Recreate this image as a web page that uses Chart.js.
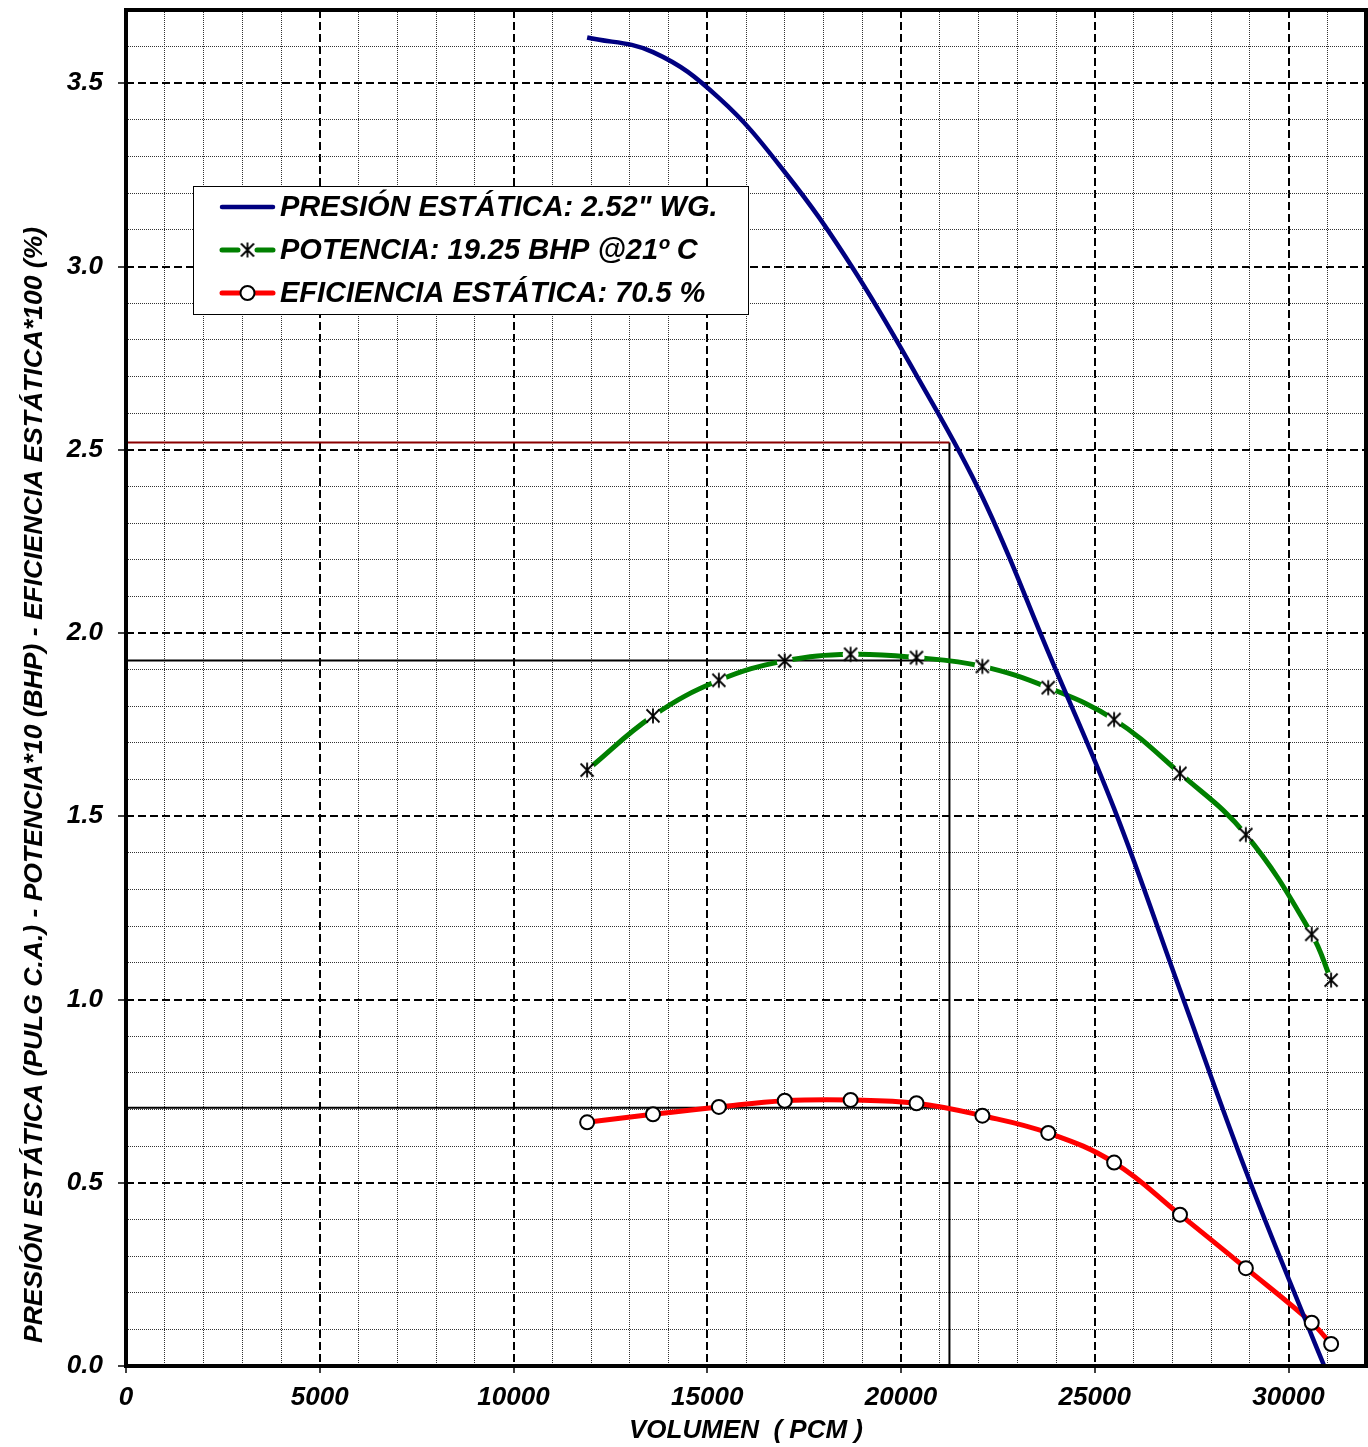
<!DOCTYPE html>
<html>
<head>
<meta charset="utf-8">
<script src="https://cdn.jsdelivr.net/npm/chart.js@4.4.1/dist/chart.umd.min.js"></script>
<style>
  html, body { margin: 0; padding: 0; background: #fff; }
  #wrap { position: relative; width: 1368px; height: 1447px; }
</style>
</head>
<body>
<div id="wrap"><canvas id="chart" width="1368" height="1447"></canvas></div>
<script>
// caudal de los puntos de ensayo (PCM)
const volumen = [11900, 13600, 15300, 17000, 18700, 20400, 22100, 23800, 25500, 27200, 28900, 30600, 31100];
// presion estatica (pulg c.a.)
const presion = [3.625, 3.585, 3.46, 3.258, 3.005, 2.703, 2.371, 1.948, 1.521, 1.026, 0.532, 0.083, -0.045];
// potencia / 10 (BHP)
const potencia = [1.626, 1.774, 1.871, 1.924, 1.942, 1.933, 1.909, 1.851, 1.764, 1.617, 1.450, 1.178, 1.053];
// eficiencia estatica / 100
const eficiencia = [0.665, 0.687, 0.707, 0.724, 0.726, 0.717, 0.683, 0.636, 0.555, 0.413, 0.267, 0.118, 0.060];

// punto de operacion
const opVolumen = 21250;
const opPresion = 2.52;
const opPotencia = 1.925;
const opEficiencia = 0.705;

// marcas con etiqueta en los ejes
const xMarcas = [0, 5000, 10000, 15000, 20000, 25000, 30000];
const yMarcas = [0.0, 0.5, 1.0, 1.5, 2.0, 2.5, 3.0, 3.5];

const tituloX = 'VOLUMEN  ( PCM )';
const tituloY = 'PRESIÓN ESTÁTICA (PULG C.A.) - POTENCIA*10 (BHP) - EFICIENCIA ESTÁTICA*100 (%)';

const FAMILIA = '"Liberation Sans", Arial, sans-serif';
const fuente = (size) => ({ family: FAMILIA, size: size, style: 'italic', weight: 'bold' });

const puntos = (ys) => volumen.map((v, i) => ({ x: v, y: ys[i] }));

const esMarcaX = (c) => c.tick && xMarcas.includes(c.tick.value);
const esMarcaY = (c) => c.tick && yMarcas.some(m => Math.abs(m - c.tick.value) < 1e-6);

// marcador tipo asterisco (X con barra vertical)
const asterisco = (function () {
  const c = document.createElement('canvas');
  c.width = 18; c.height = 18;
  const g = c.getContext('2d');
  g.strokeStyle = '#000';
  g.lineWidth = 1.8;
  g.beginPath();
  g.moveTo(2.5, 2.5); g.lineTo(15.5, 15.5);
  g.moveTo(15.5, 2.5); g.lineTo(2.5, 15.5);
  g.moveTo(9, 1.5); g.lineTo(9, 16.5);
  g.stroke();
  return c;
})();

// corta la linea alrededor de cada marcador
const huecos = {
  id: 'huecos',
  beforeDatasetDraw(chart, args) {
    const ds = chart.data.datasets[args.index];
    if (!ds.huecoRadio) return;
    const ctx = chart.ctx;
    const r = ds.huecoRadio;
    ctx.save();
    ctx.beginPath();
    ctx.rect(0, 0, chart.width, chart.height);
    args.meta.data.forEach(p => {
      ctx.moveTo(p.x + r, p.y);
      ctx.arc(p.x, p.y, r, 0, Math.PI * 2);
    });
    ctx.clip('evenodd');
  },
  afterDatasetDraw(chart, args) {
    if (chart.data.datasets[args.index].huecoRadio) chart.ctx.restore();
  }
};

// marco grueso del area de trazado
const marco = {
  id: 'marco',
  afterDatasetsDraw(chart) {
    const a = chart.chartArea;
    const ctx = chart.ctx;
    ctx.save();
    ctx.strokeStyle = '#000';
    ctx.lineWidth = 4;
    ctx.strokeRect(a.left, a.top, a.right - a.left, a.bottom - a.top);
    ctx.restore();
  }
};

// titulo vertical del eje y
const ejeY = {
  id: 'ejeY',
  afterDraw(chart) {
    const ctx = chart.ctx;
    ctx.save();
    ctx.translate(42, 785);
    ctx.rotate(-Math.PI / 2);
    ctx.font = 'italic bold 26.5px ' + FAMILIA;
    ctx.fillStyle = '#000';
    ctx.textAlign = 'center';
    ctx.textBaseline = 'alphabetic';
    ctx.fillText(tituloY, 0, 0);
    ctx.restore();
  }
};

// leyenda dentro del grafico
const leyenda = {
  id: 'leyenda',
  afterDraw(chart) {
    const ctx = chart.ctx;
    const ds = chart.data.datasets;
    ctx.save();
    ctx.fillStyle = '#fff';
    ctx.fillRect(193, 186, 555, 128);
    ctx.strokeStyle = '#000';
    ctx.lineWidth = 1;
    ctx.strokeRect(193.5, 186.5, 555, 128);

    const filas = [207, 250, 293];
    ctx.lineCap = 'round';
    filas.forEach((y, i) => {
      const d = ds[i];
      ctx.strokeStyle = d.borderColor;
      ctx.lineWidth = d.borderWidth;
      ctx.beginPath();
      if (i === 1) {
        ctx.moveTo(222, y); ctx.lineTo(238, y);
        ctx.moveTo(257, y); ctx.lineTo(273, y);
      } else {
        ctx.moveTo(222, y); ctx.lineTo(273, y);
      }
      ctx.stroke();
      if (i === 1) {
        ctx.drawImage(asterisco, 247.5 - 9, y - 9);
      }
      if (i === 2) {
        ctx.beginPath();
        ctx.arc(247.5, y, 7, 0, Math.PI * 2);
        ctx.fillStyle = '#fff';
        ctx.fill();
        ctx.lineWidth = 2;
        ctx.strokeStyle = '#000';
        ctx.stroke();
      }
      ctx.font = 'italic bold 29px ' + FAMILIA;
      ctx.fillStyle = '#000';
      ctx.textAlign = 'left';
      ctx.textBaseline = 'middle';
      ctx.fillText(d.label, 280, y + 1);
    });
    ctx.restore();
  }
};

const referencia = (data, color) => ({
  label: '', data: data, borderColor: color, borderWidth: 2,
  pointRadius: 0, tension: 0, order: 10
});

new Chart(document.getElementById('chart'), {
  type: 'line',
  data: {
    datasets: [
      { label: 'PRESIÓN ESTÁTICA: 2.52" WG.', data: puntos(presion), borderColor: '#000080',
        borderWidth: 4.5, pointRadius: 0, tension: 0.4, order: 3 },
      { label: 'POTENCIA: 19.25 BHP @21º C', data: puntos(potencia), borderColor: '#008000',
        borderWidth: 5, pointRadius: 0, tension: 0.4, huecoRadio: 8, order: 4 },
      { label: 'EFICIENCIA ESTÁTICA: 70.5 %', data: puntos(eficiencia), borderColor: '#ff0000',
        borderWidth: 5, pointRadius: 0, tension: 0.4, order: 5 },
      { label: 'marcas potencia', data: puntos(potencia), showLine: false,
        pointStyle: asterisco, pointRadius: 9, order: 2 },
      { label: 'marcas eficiencia', data: puntos(eficiencia), showLine: false, pointRadius: 7,
        pointBorderWidth: 2, pointBackgroundColor: '#fff', pointBorderColor: '#000', order: 1 },
      referencia([{ x: 0, y: opPresion }, { x: opVolumen, y: opPresion }], '#8b0000'),
      referencia([{ x: 0, y: opPotencia }, { x: opVolumen, y: opPotencia }], '#000'),
      referencia([{ x: 0, y: opEficiencia }, { x: opVolumen, y: opEficiencia }], '#000'),
      referencia([{ x: opVolumen, y: 0 }, { x: opVolumen, y: opPresion }], '#000')
    ]
  },
  options: {
    responsive: false,
    animation: false,
    events: [],
    layout: { autoPadding: false, padding: { top: 10, right: 2, bottom: 0, left: 0 } },
    plugins: { legend: { display: false }, tooltip: { enabled: false } },
    scales: {
      x: {
        type: 'linear', min: 0, max: 32000,
        afterFit: (s) => { s.height = 81; s.paddingLeft = 0; s.paddingRight = 0; },
        ticks: {
          stepSize: 1000, autoSkip: false, maxRotation: 0, color: '#000', padding: 9,
          font: fuente(26),
          callback: (v) => xMarcas.includes(v) ? String(v) : ''
        },
        grid: {
          color: (c) => esMarcaX(c) ? '#000' : '#333',
          lineWidth: (c) => esMarcaX(c) ? 2 : 1,
          tickLength: 7,
          tickColor: (c) => esMarcaX(c) ? '#000' : 'rgba(0,0,0,0)',
          tickWidth: 1.5,
          tickBorderDash: []
        },
        border: { display: false, dash: (c) => c.tick ? (esMarcaX(c) ? [8, 4] : [1, 1]) : [] },
        title: { display: true, text: tituloX, color: '#000', font: fuente(26), padding: { top: 0, bottom: 1 } }
      },
      y: {
        type: 'linear', min: 0, max: 3.7,
        afterFit: (s) => { s.width = 126; s.paddingTop = 0; s.paddingBottom = 0; },
        ticks: {
          stepSize: 0.1, autoSkip: false, color: '#000', padding: 15,
          font: fuente(26),
          callback: (v) => yMarcas.some(m => Math.abs(m - v) < 1e-6) ? v.toFixed(1) : ''
        },
        grid: {
          color: (c) => esMarcaY(c) ? '#000' : '#333',
          lineWidth: (c) => esMarcaY(c) ? 2 : 1,
          tickLength: 8,
          tickColor: (c) => esMarcaY(c) ? '#000' : 'rgba(0,0,0,0)',
          tickWidth: 1.5,
          tickBorderDash: []
        },
        border: { display: false, dash: (c) => c.tick ? (esMarcaY(c) ? [8, 4] : [1, 1]) : [] }
      }
    }
  },
  plugins: [huecos, marco, ejeY, leyenda]
});
</script>
</body>
</html>
